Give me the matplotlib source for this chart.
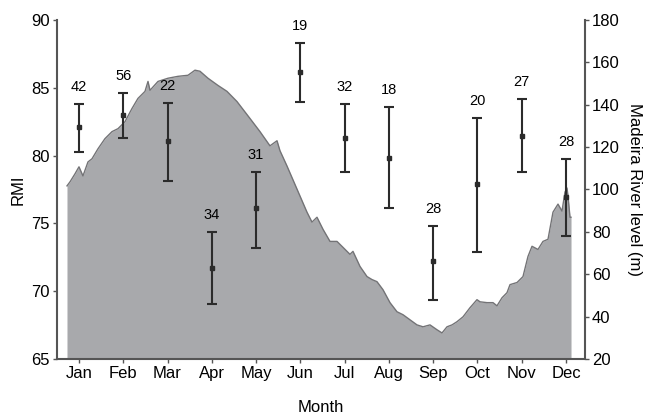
import matplotlib.pyplot as plt

plt.rcParams['font.family'] = ['Liberation Sans', 'DejaVu Sans']

months = ['Jan', 'Feb', 'Mar', 'Apr', 'May', 'Jun', 'Jul', 'Aug', 'Sep', 'Oct', 'Nov', 'Dec']
rmi = [82.1, 83.0, 81.1, 71.7, 76.1, 86.2, 81.3, 79.8, 72.2, 77.9, 81.45, 76.95]
rmi_low = [80.25, 81.3, 78.1, 69.05, 73.2, 83.95, 78.8, 76.1, 69.35, 72.9, 78.8, 74.1]
rmi_high = [83.8, 84.6, 83.9, 74.4, 78.8, 88.3, 83.8, 83.6, 74.8, 82.8, 84.2, 79.75]
n_obs = [42, 56, 22, 34, 31, 19, 32, 18, 28, 20, 27, 28]

# river level curve, x in month units (1 = Jan)
river_t = [0.729, 0.797, 0.910, 1.0, 1.09, 1.203, 1.294, 1.429, 1.587, 1.745, 1.881,
           2.039, 2.197, 2.333, 2.491, 2.559, 2.604, 2.785, 3.010, 3.236, 3.462, 3.620,
           3.733, 3.914, 4.140, 4.343, 4.569, 4.863, 5.089, 5.314, 5.473, 5.540, 5.698,
           5.924, 6.150, 6.263, 6.376, 6.512, 6.670, 6.828, 6.963, 7.121, 7.189, 7.347,
           7.506, 7.618, 7.731, 7.867, 8.025, 8.183, 8.319, 8.477, 8.635, 8.771, 8.929,
           9.087, 9.200, 9.313, 9.426, 9.538, 9.674, 9.832, 9.990, 10.058, 10.216, 10.352,
           10.442, 10.555, 10.668, 10.736, 10.894, 11.029, 11.142, 11.233, 11.368, 11.481,
           11.594, 11.707, 11.820, 11.910, 11.978, 12.023, 12.046, 12.091, 12.114]
river_lvl = [101.7, 103.6, 107.4, 110.7, 106.4, 113.0, 114.5, 119.2, 124.0, 127.3, 128.7,
             132.0, 138.2, 143.0, 146.3, 151.0, 146.8, 151.0, 152.5, 153.4, 153.9, 156.3,
             155.8, 152.5, 149.1, 146.3, 141.5, 133.5, 127.3, 120.6, 123.0, 118.3, 111.1,
             100.2, 89.3, 84.6, 86.9, 81.2, 75.5, 75.5, 72.7, 69.4, 70.8, 63.7,
             58.9, 57.5, 56.5, 52.7, 46.6, 42.3, 40.9, 38.5, 36.1, 35.2, 36.1,
             33.8, 32.3, 35.2, 36.1, 37.6, 39.9, 44.2, 48.0, 47.0, 46.6, 46.6,
             45.1, 48.9, 51.3, 55.1, 56.1, 58.9, 68.4, 73.2, 71.7, 75.5,
             76.5, 89.3, 93.1, 89.8, 98.8, 100.7, 96.9, 86.9, 86.9]

x = list(range(1, 13))
spine_col = '#555555'

fig = plt.figure(figsize=(6.49, 4.16), dpi=100)
ax = fig.add_axes([0.0878, 0.137, 0.8136, 0.815])
ax2 = ax.twinx()

ax2.fill_between(river_t, 20, river_lvl, color='#a8a9ac', lw=0)
ax2.plot(river_t, river_lvl, color='#737376', lw=1.0)
ax2.set_ylim(20, 180)
ax2.set_yticks(range(20, 181, 20))
ax2.set_ylabel('Madeira River level (m)', fontsize=12, rotation=270, labelpad=16)

yerr = [[m - lo for m, lo in zip(rmi, rmi_low)], [hi - m for m, hi in zip(rmi, rmi_high)]]
ax.errorbar(x, rmi, yerr=yerr, fmt='s', color='#2b2b2b', ms=3, elinewidth=1.5,
            capsize=3.5, capthick=1.5)
for xi, hi, n in zip(x, rmi_high, n_obs):
    ax.annotate(str(n), (xi, hi), xytext=(0, 7), textcoords='offset points',
                ha='center', va='bottom', fontsize=10.5)

ax.set_zorder(ax2.get_zorder() + 1)
ax.patch.set_visible(False)

ax.set_xlim(0.503, 12.43)
ax.set_ylim(65, 90)
ax.set_yticks(range(65, 91, 5))
ax.set_xticks(x)
ax.set_xticklabels(months)
ax.set_xlabel('Month', fontsize=12, labelpad=14)
ax.set_ylabel('RMI', fontsize=12, labelpad=4)

for a in (ax, ax2):
    a.spines['top'].set_visible(False)
    for s in ('left', 'right', 'bottom'):
        a.spines[s].set_color(spine_col)
        a.spines[s].set_linewidth(1.5)
    a.tick_params(labelsize=12, color=spine_col, length=3, width=1, pad=2)
ax.spines['right'].set_visible(False)
ax2.spines['left'].set_visible(False)
ax2.spines['bottom'].set_visible(False)

fig.savefig('out.png', dpi=100)
